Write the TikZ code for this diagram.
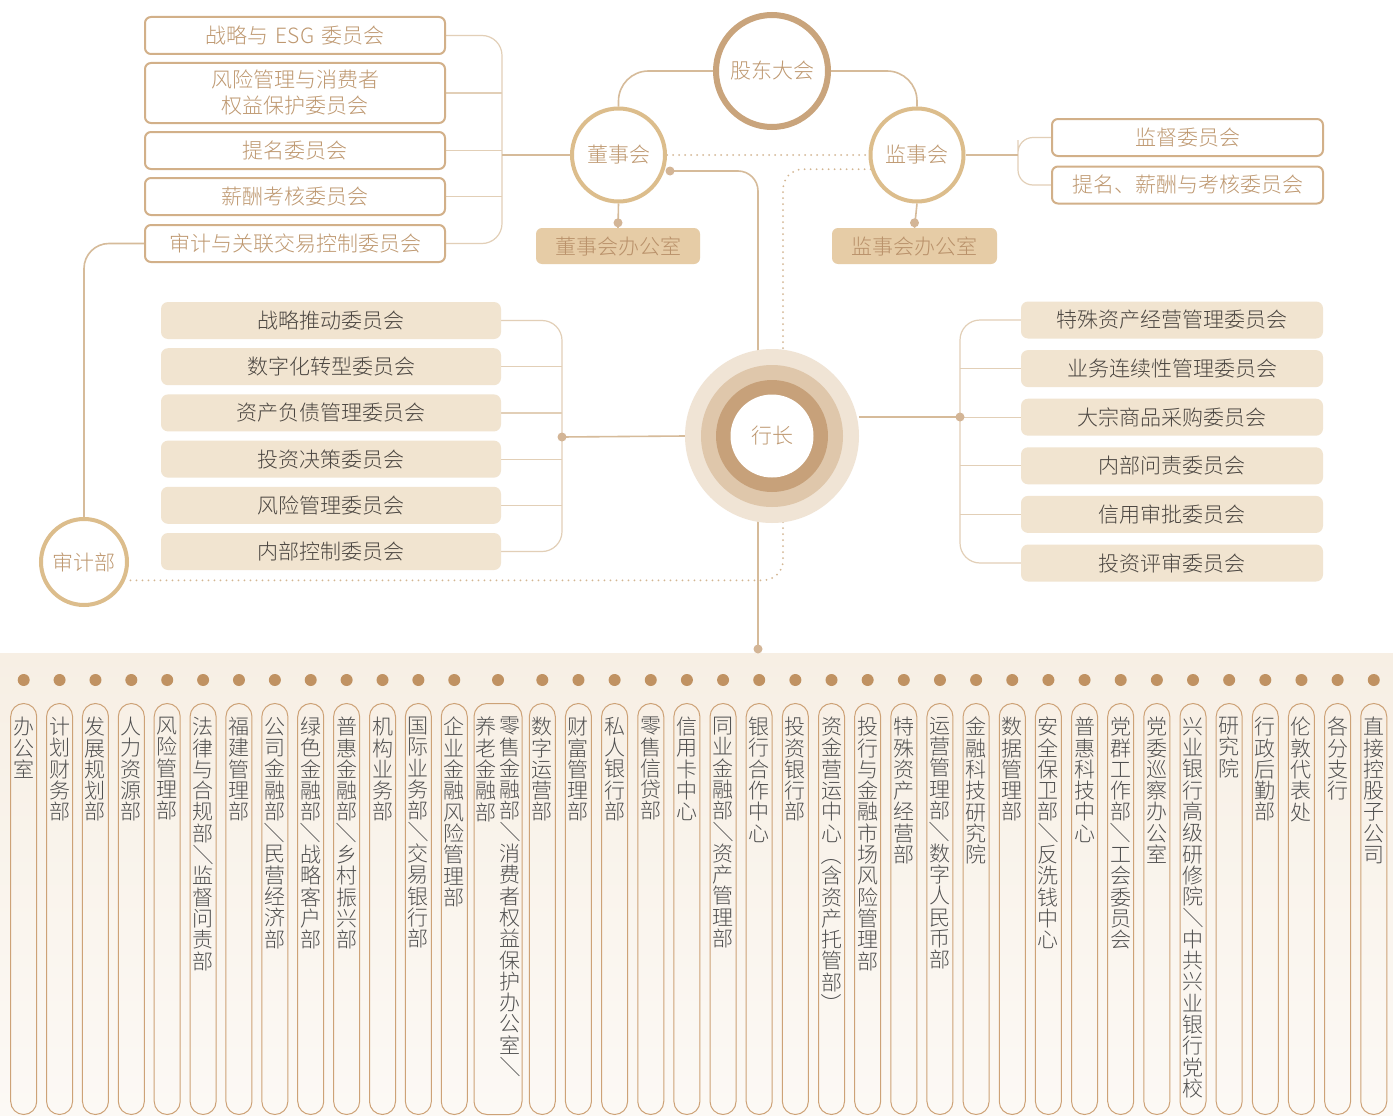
\documentclass[tikz,border=0pt]{standalone}
\usepackage{fontspec}
\setmainfont{Noto Sans CJK SC}[UprightFont=* Light]
\usetikzlibrary{backgrounds}

\definecolor{linetan}{HTML}{D6BB9A}
\definecolor{linelight}{HTML}{E2CFB7}
\definecolor{dottan}{HTML}{D3B692}
\definecolor{boxline}{HTML}{D2B089}
\definecolor{tantext}{HTML}{BE9870}
\definecolor{ringdark}{HTML}{C9A47C}
\definecolor{ringgold}{HTML}{DCBD8C}
\definecolor{officefill}{HTML}{E6CCA6}
\definecolor{officetext}{HTML}{B9916A}
\definecolor{cmtfill}{HTML}{F1E4D0}
\definecolor{darktext}{HTML}{4A4540}
\definecolor{hzouter}{HTML}{F0E4D5}
\definecolor{hzmid}{HTML}{DFC7AB}
\definecolor{hzinner}{HTML}{C7A17A}
\definecolor{lightdot}{HTML}{D3B596}
\definecolor{deptdot}{HTML}{C09262}
\definecolor{colline}{HTML}{CDA277}
\definecolor{coltext}{HTML}{505050}
\definecolor{bandtop}{HTML}{F7EFE4}
\definecolor{bandbot}{HTML}{FCF9F5}

% vertical text: one character per line
\def\vcolend{vcol-end}
\newcommand\vcol[1]{\vtop{\baselineskip=21.3pt\lineskiplimit=-100pt\lineskip=0pt\vcolaux#1\vcolend}}
\def\vcolaux#1{\ifx#1\vcolend\else\hbox to 21pt{\hss#1\hss}\expandafter\vcolaux\fi}
\newcommand\vsl{\rotatebox[origin=c]{-90}{／}}
\newcommand\vlp{\rotatebox[origin=c]{-90}{（}}
\newcommand\vrp{\rotatebox[origin=c]{-90}{）}}

\tikzset{
  conn/.style={draw=linetan, line width=1.6pt},
  thinconn/.style={draw=linelight, line width=1.2pt},
  dotline/.style={draw=dottan, line width=2pt, dash pattern=on 0pt off 6pt, line cap=round},
  outbox/.style={draw=boxline, line width=2pt, rounded corners=6pt, fill=white, text=tantext,
    inner sep=0pt, minimum height=37pt, minimum width=300pt},
  cmtbox/.style={fill=cmtfill, rounded corners=7pt, text=darktext, inner sep=0pt, minimum height=37pt},
  officebox/.style={fill=officefill, rounded corners=6pt, text=officetext, inner sep=0pt, minimum height=36pt},
  ringnode/.style={circle, fill=white, text=tantext, inner sep=0pt},
  deptbox/.style={draw=colline, line width=1pt, rounded corners=13pt, inner sep=0pt,
    minimum width=26pt, minimum height=411pt, anchor=north},
  depttext/.style={anchor=north, inner sep=0pt, text=coltext},
}

\begin{document}
\begin{tikzpicture}[x=1pt, y=-1pt, every node/.style={font=\fontsize{21}{26}\selectfont}]
  \useasboundingbox (0,0) rectangle (1393,1116);

  % board committees
  \node[outbox] (b1) at (295,35.5) {战略与\hspace{7pt}ESG\hspace{7pt}委员会};
  \node[outbox, minimum height=60pt, align=center] (b2) at (295,93) {风险管理与消费者\\权益保护委员会};
  \node[outbox] (b3) at (295,150.5) {提名委员会};
  \node[outbox] (b4) at (295,196.5) {薪酬考核委员会};
  \node[outbox] (b5) at (295,243.5) {审计与关联交易控制委员会};

  % governance circles
  \node[ringnode, draw=ringdark, line width=6pt, minimum size=112pt] (gdh) at (772,71) {股东大会};
  \node[ringnode, draw=ringgold, line width=4pt, minimum size=93pt] (dsh) at (618.5,155) {董事会};
  \node[ringnode, draw=ringgold, line width=4pt, minimum size=93pt] (jsh) at (917,155) {监事会};
  \node[ringnode, draw=ringgold, line width=4pt, minimum size=86pt] (sjb) at (84,562) {审计部};
  \node[officebox, minimum width=164pt] (dsho) at (618,246) {董事会办公室};
  \node[officebox, minimum width=165pt] (jsho) at (914.5,246) {监事会办公室};

  % supervisory committees
  \node[outbox, minimum width=271pt] (j1) at (1187.5,137.5) {监督委员会};
  \node[outbox, minimum width=271pt] (j2) at (1187.5,185) {提名、薪酬与考核委员会};

  % president
  \node[circle, fill=hzouter, minimum size=174pt, inner sep=0pt, text=tantext,
    path picture={
      \fill[hzmid] (path picture bounding box.center) circle (71pt);
      \fill[hzinner] (path picture bounding box.center) circle (56pt);
      \fill[white] (path picture bounding box.center) circle (41.5pt);
    }] (hz) at (772,436) {行长};

  % management committees
  \foreach \t [count=\i] in {战略推动委员会, 数字化转型委员会, 资产负债管理委员会,
      投资决策委员会, 风险管理委员会, 内部控制委员会}
    \node[cmtbox, minimum width=340pt] (l\i) at (331,{320.5+46.2*(\i-1)}) {\t};
  \foreach \t [count=\i] in {特殊资产经营管理委员会, 业务连续性管理委员会, 大宗商品采购委员会,
      内部问责委员会, 信用审批委员会, 投资评审委员会}
    \node[cmtbox, minimum width=302pt] (r\i) at (1172,{320+48.6*(\i-1)}) {\t};

  % departments
  \foreach \t [count=\i] in {办公室, 计划财务部, 发展规划部, 人力资源部, 风险管理部,
      法律与合规部\vsl 监督问责部, 福建管理部, 公司金融部\vsl 民营经济部,
      绿色金融部\vsl 战略客户部, 普惠金融部\vsl 乡村振兴部, 机构业务部,
      国际业务部\vsl 交易银行部, 企业金融风险管理部} {
    \pgfmathsetmacro\cx{23.7+35.88*(\i-1)}
    \node[deptbox] (col\i) at (\cx,703) {};
    \node[depttext] (d\i) at (\cx,717) {\expandafter\vcol\expandafter{\t}};
    \fill[deptdot] (\cx,680) circle (6pt);
  }
  \node[deptbox, minimum width=48pt] (col14) at (498,703) {};
  \node[depttext] (d14a) at (510,717) {\vcol{零售金融部\vsl 消费者权益保护办公室\vsl}};
  \node[depttext] (d14b) at (486,717) {\vcol{养老金融部}};
  \fill[deptdot] (498,680) circle (6pt);
  \foreach \t [count=\i from 15] in {数字运营部, 财富管理部, 私人银行部, 零售信贷部, 信用卡中心,
      同业金融部\vsl 资产管理部, 银行合作中心, 投资银行部, 资金营运中心\vlp 含资产托管部\vrp,
      投行与金融市场风险管理部, 特殊资产经营部, 运营管理部\vsl 数字人民币部, 金融科技研究院,
      数据管理部, 安全保卫部\vsl 反洗钱中心, 普惠科技中心, 党群工作部\vsl 工会委员会,
      党委巡察办公室, 兴业银行高级研修院\vsl 中共兴业银行党校, 研究院, 行政后勤部,
      伦敦代表处, 各分支行, 直接控股子公司} {
    \pgfmathsetmacro\cx{542.3+36.15*(\i-15)}
    \node[deptbox] (col\i) at (\cx,703) {};
    \node[depttext] (d\i) at (\cx,717) {\expandafter\vcol\expandafter{\t}};
    \fill[deptdot] (\cx,680) circle (6pt);
  }

  % bracket points
  \coordinate (bx) at (502,155);
  \coordinate (jbx) at (1018,155);
  \coordinate (lbx) at (562,437);
  \coordinate (rbx) at (960,417);
  \coordinate (dd) at (670,171);
  \coordinate (dv) at (783,171);
  \coordinate (hzbot) at (758,649);

  \begin{scope}[on background layer]
    \fill[white] (0,0) rectangle (1393,1116);
    \fill[top color=bandtop, bottom color=bandbot] (0,653) rectangle (1393,1116);
    % shareholders to boards
    \draw[conn, rounded corners=30pt] (gdh.west) -| (dsh.north);
    \draw[conn, rounded corners=30pt] (gdh.east) -| (jsh.north);
    \draw[dotline] (dsh.east) -- (jsh.west);
    % board committees
    \draw[thinconn, rounded corners=20pt] (b1.east) -| (bx) |- (b5.east);
    \foreach \i in {2,3,4} \draw[thinconn] (b\i.east) -- (b\i.east -| bx);
    \draw[conn] (bx) -- (dsh.west);
    \draw[conn, rounded corners=25pt] (b5.west) -| (sjb.north);
    % supervisory committees
    \draw[thinconn, rounded corners=15pt] (j1.west) -| (jbx) |- (j2.west);
    \draw[conn] (jsh.east) -- (jbx);
    % offices
    \draw[conn] (dsh.south) -- (dsho.north);
    \fill[lightdot] (dsho.north) ++(0,-5) circle (4.5pt);
    \draw[conn] (jsh.south) -- (jsho.north);
    \fill[lightdot] (jsho.north) ++(0,-5) circle (4.5pt);
    % board to president and departments
    \draw[conn, rounded corners=20pt] (dd) -| (hzbot);
    \fill[lightdot] (dd) circle (4.5pt);
    \fill[lightdot] (hzbot) circle (4.5pt);
    % audit line (dotted)
    \draw[dotline, rounded corners=20pt] (jsh.197) -| (dv |- sjb.-24) -- (sjb.-24);
    % management committees
    \draw[thinconn, rounded corners=20pt] (l1.east) -| (lbx) |- (l6.east);
    \foreach \i in {2,...,5} \draw[thinconn] (l\i.east) -- (l\i.east -| lbx);
    \draw[conn] (lbx) -- (hz.west);
    \fill[lightdot] (lbx) circle (4.5pt);
    \draw[thinconn, rounded corners=20pt] (r1.west) -| (rbx) |- (r6.west);
    \foreach \i in {2,...,5} \draw[thinconn] (r\i.west) -- (r\i.west -| rbx);
    \draw[conn] (hz.east |- rbx) -- (rbx);
    \fill[lightdot] (rbx) circle (4.5pt);
  \end{scope}
\end{tikzpicture}
\end{document}
